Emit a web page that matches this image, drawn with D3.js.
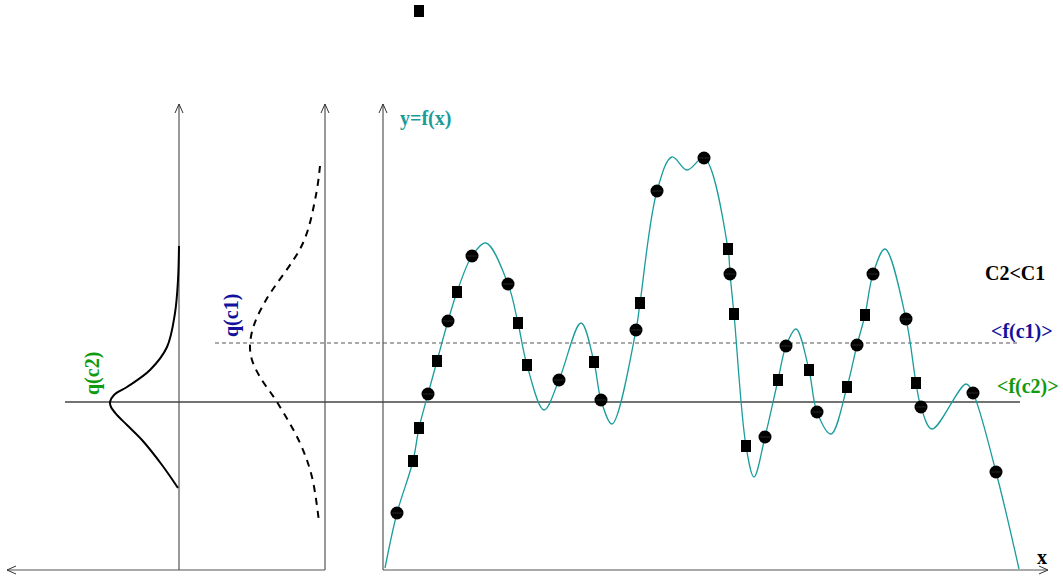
<!DOCTYPE html>
<html>
<head>
<meta charset="utf-8">
<script src="https://cdn.jsdelivr.net/npm/d3@7"></script>
<style>
  body { margin: 0; background: #fff; }
  svg text { font-family: "Liberation Serif", "Times New Roman", serif; font-weight: bold; }
</style>
</head>
<body>
<div id="chart"></div>
<script>
const circleX = [14, 45, 65, 89, 125, 176, 218, 253, 274, 321, 347, 382, 403, 434, 474, 490, 523, 538, 590, 613];
const circleY = [57, 176, 249, 314, 286, 190, 170, 240, 379, 412, 296, 133, 224, 158, 225, 296, 251, 163, 177, 98];
const squareX = [30, 36, 54, 74, 135, 144, 211, 257, 345, 351, 363, 395, 426, 464, 482, 533];
const squareY = [109, 142, 209, 278, 247, 205, 208, 267, 321, 256, 124, 190, 200, 183, 255, 187];
// the stray square above the plot
const strayX = [36];
const strayY = [559];
// turning points of f(x) between the samples
const extremaX = [2, 103, 161, 198, 229, 289, 304, 371, 413, 448, 502, 549, 583, 636];
const extremaY = [2, 327, 160, 247, 146, 413, 400, 93, 241, 136, 321, 141, 186, 1];

// densities q(c) against y, drawn leftwards from their own axes
const q2Y = [324, 290, 257, 223, 200, 183, 175, 168, 163, 155, 145, 130, 105, 82];
const q2V = [0, 1, 4, 12, 29, 52, 65, 69, 68, 62, 52, 37, 17, 1];
const q1Y = [404, 375, 327, 270, 245, 225, 210, 193, 168, 127, 93, 48];
const q1V = [5, 9, 22, 59, 71, 75, 73, 65, 48, 25, 13, 6];

const levelC1 = 227, levelC2 = 168;

const W = 1063, H = 577;
const teal = '#1a9c9c', green = '#0f9a0f', navy = '#12129c';

const x = d3.scaleLinear().domain([0, 660]).range([383, 1043]);
const y = d3.scaleLinear().domain([0, 470]).range([570, 100]);
const q2x = d3.scaleLinear().domain([0, 70]).range([179, 109]);
const q1x = d3.scaleLinear().domain([0, 75]).range([325, 250]);

const svg = d3.select('#chart').append('svg').attr('width', W).attr('height', H);

const arrow = (g, x0, y0, dir) => {
  // open arrow head, dir: 'up' | 'left' | 'right'
  const s = 4, l = 9;
  let d;
  if (dir === 'up') d = `M${x0 - s},${y0 + l}L${x0},${y0}L${x0 + s},${y0 + l}`;
  if (dir === 'left') d = `M${x0 + l},${y0 - s}L${x0},${y0}L${x0 + l},${y0 + s}`;
  if (dir === 'right') d = `M${x0 - l},${y0 - s}L${x0},${y0}L${x0 - l},${y0 + s}`;
  g.append('path').attr('d', d).attr('fill', 'none').attr('stroke', '#333').attr('stroke-width', 1);
};

const axes = svg.append('g').attr('stroke', '#555').attr('stroke-width', 1.2);
// main axes
axes.append('line').attr('x1', x(0)).attr('y1', y(0)).attr('x2', 1048).attr('y2', y(0));
axes.append('line').attr('x1', x(0)).attr('y1', y(0)).attr('x2', x(0)).attr('y2', 104);
arrow(svg, 1048, y(0), 'right');
arrow(svg, x(0), 104, 'up');
// left panel axes
axes.append('line').attr('x1', q1x(0)).attr('y1', y(0)).attr('x2', 7).attr('y2', y(0));
axes.append('line').attr('x1', q2x(0)).attr('y1', y(0)).attr('x2', q2x(0)).attr('y2', 104);
axes.append('line').attr('x1', q1x(0)).attr('y1', y(0)).attr('x2', q1x(0)).attr('y2', 104);
arrow(svg, 7, y(0), 'left');
arrow(svg, q2x(0), 104, 'up');
arrow(svg, q1x(0), 104, 'up');

// mean levels
svg.append('line').attr('x1', 65).attr('x2', 1020).attr('y1', y(levelC2)).attr('y2', y(levelC2))
  .attr('stroke', '#444').attr('stroke-width', 1.3);
svg.append('line').attr('x1', 215).attr('x2', 1020).attr('y1', y(levelC1)).attr('y2', y(levelC1))
  .attr('stroke', '#555').attr('stroke-width', 1).attr('stroke-dasharray', '4,3');

// density curves
const q2 = q2Y.map((d, i) => [q2x(q2V[i]), y(d)]);
const q1 = q1Y.map((d, i) => [q1x(q1V[i]), y(d)]);
const smooth = d3.line().curve(d3.curveCatmullRom.alpha(0.5));
svg.append('path').attr('d', smooth(q2)).attr('fill', 'none').attr('stroke', '#000').attr('stroke-width', 2);
svg.append('path').attr('d', smooth(q1)).attr('fill', 'none').attr('stroke', '#000').attr('stroke-width', 2)
  .attr('stroke-dasharray', '7,6');

// f(x) through samples and turning points
const circles = circleX.map((d, i) => ({ x: d, y: circleY[i] }));
const squares = squareX.map((d, i) => ({ x: d, y: squareY[i] }));
const extrema = extremaX.map((d, i) => ({ x: d, y: extremaY[i] }));
const nodes = circles.concat(squares, extrema).sort((a, b) => a.x - b.x);
const fLine = d3.line().x(d => x(d.x)).y(d => y(d.y)).curve(d3.curveCatmullRom.alpha(0.5));
svg.append('path').attr('d', fLine(nodes)).attr('fill', 'none').attr('stroke', teal).attr('stroke-width', 1.3);

// markers
const allSquares = squares.concat(strayX.map((d, i) => ({ x: d, y: strayY[i] })));
svg.selectAll('rect.sq').data(allSquares)
  .enter().append('rect').attr('class', 'sq')
  .attr('x', d => x(d.x) - 5).attr('y', d => y(d.y) - 6)
  .attr('width', 10).attr('height', 12).attr('fill', '#000');
const dots = svg.selectAll('g.dot').data(circles).enter().append('g').attr('class', 'dot')
  .attr('transform', d => `translate(${x(d.x)},${y(d.y)})`);
dots.append('circle').attr('r', 6.5).attr('fill', '#000');
dots.append('line').attr('x1', -5).attr('x2', 5).attr('stroke', '#666').attr('stroke-width', 0.4);

// labels
const label = (t, px, py, color, rot) => svg.append('text')
  .attr('transform', `translate(${px},${py})` + (rot ? ' rotate(-90)' : ''))
  .attr('fill', color).attr('font-size', 20).text(t);
label('y=f(x)', 400, 125, teal);
label('C2<C1', 985, 280, '#000');
label('<f(c1)>', 991, 338, navy);
label('<f(c2)>', 997, 393, green);
label('x', 1037, 564, '#000');
label('q(c2)', 99, 395, green, true);
label('q(c1)', 238, 337, navy, true);
</script>
</body>
</html>
